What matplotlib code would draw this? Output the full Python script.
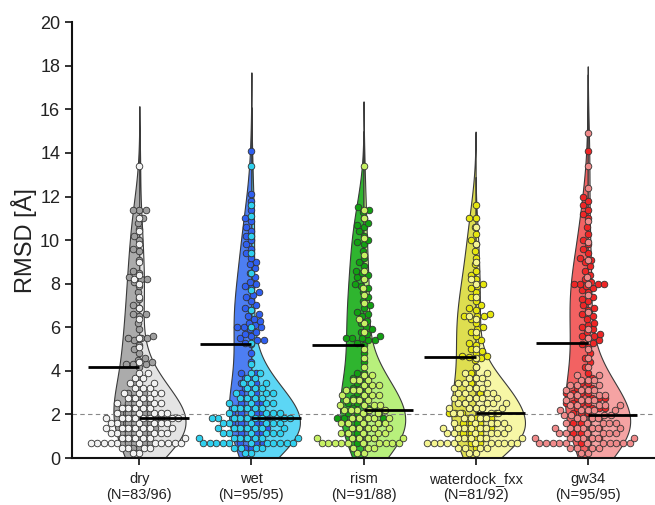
import numpy as np
import matplotlib
matplotlib.use("Agg")
import matplotlib.pyplot as plt

plt.rcParams['font.family'] = ['Liberation Sans', 'DejaVu Sans']

categories = ["dry", "wet", "rism", "waterdock_fxx", "gw34"]
counts = ["(N=83/96)", "(N=95/95)", "(N=91/88)", "(N=81/92)", "(N=95/95)"]

dry_dark = [0.48,0.48,0.7,0.7,0.7,0.93,0.93,0.93,1.16,1.16,1.16,1.39,1.39,1.39,1.39,
            1.62,1.62,1.62,1.62,1.85,1.85,1.85,1.85,1.85,2.08,2.08,2.08,2.08,2.31,2.31,2.31,
            2.54,2.54,2.54,2.77,2.77,3.0,3.0,3.23,3.46,3.69,
            4.2,
            4.3,4.3,4.3,4.4,4.5,4.6,4.8,5.0,5.2,5.4,5.5,5.5,5.5,5.6,5.9,6.2,6.5,6.6,6.6,6.9,
            7.0,7.3,7.6,7.9,8.1,8.2,8.2,8.3,8.5,8.6,9.1,9.5,9.6,10.0,10.2,10.5,10.8,11.0,
            11.4,11.4,11.4]
dry_light = [0.25,0.25,0.48,0.48,0.48,0.48,
             0.7,0.7,0.7,0.7,0.7,0.7,0.7,0.7,0.7,0.7,0.7,
             0.93,0.93,0.93,0.93,0.93,0.93,1.16,1.16,1.16,1.16,1.16,1.16,
             1.39,1.39,1.39,1.39,1.39,1.39,1.39,1.62,1.62,1.62,1.62,1.62,1.62,
             1.85,1.85,1.85,1.85,1.85,1.85,1.85,1.85,
             2.08,2.08,2.08,2.08,2.08,2.31,2.31,2.31,2.31,2.31,2.54,2.54,2.54,2.54,
             2.77,2.77,2.77,2.77,3.0,3.0,3.0,3.0,3.23,3.23,3.23,3.46,3.46,3.46,3.69,3.69,3.92,3.92,
             4.4,5.1,5.5,6.4,6.9,7.4,8.0,8.2,8.4,9.0,9.8,10.4,11.0,13.4]

wet_dark = [0.48,0.48,0.7,0.7,0.7,0.93,0.93,0.93,1.16,1.16,1.16,1.39,1.39,1.39,1.39,
            1.62,1.62,1.62,1.62,1.85,1.85,1.85,1.85,2.08,2.08,2.08,2.08,2.31,2.31,2.31,
            2.54,2.54,2.54,2.77,2.77,3.0,3.0,3.23,3.23,3.46,3.46,3.69,3.69,3.92,3.92,4.4,4.8,
            5.25,
            5.3,5.4,5.4,5.5,5.6,5.7,5.8,5.9,6.0,6.0,6.0,6.1,6.2,6.3,6.4,6.5,6.6,6.8,6.9,7.0,
            7.2,7.4,7.5,7.6,7.8,7.9,8.0,8.1,8.3,8.5,8.7,8.9,9.0,9.2,9.4,9.6,9.8,10.0,10.2,10.4,
            10.6,10.9,11.0,11.4,11.8,12.1,14.1]
wet_light = [0.25,0.25,0.48,0.48,0.48,0.48,
             0.7,0.7,0.7,0.7,0.7,0.7,0.7,0.7,0.7,0.7,0.7,
             0.93,0.93,0.93,0.93,0.93,0.93,0.93,1.16,1.16,1.16,1.16,1.16,1.16,
             1.39,1.39,1.39,1.39,1.39,1.39,1.39,1.62,1.62,1.62,1.62,1.62,1.62,
             1.85,1.85,1.85,1.85,1.85,1.85,1.85,1.85,1.85,
             2.08,2.08,2.08,2.08,2.08,2.31,2.31,2.31,2.31,2.31,2.54,2.54,2.54,2.54,
             2.77,2.77,2.77,2.77,3.0,3.0,3.0,3.0,3.23,3.23,3.23,3.46,3.46,3.46,3.69,3.69,3.92,3.92,
             4.3,5.3,6.0,6.8,7.7,8.5,9.4,10.2,11.1,11.6,13.4]

rism_dark = [0.7,0.7,0.93,0.93,0.93,1.16,1.16,1.16,1.39,1.39,1.39,1.62,1.62,1.62,1.62,
             1.85,1.85,1.85,1.85,1.85,1.85,2.08,2.08,2.08,2.08,2.31,2.31,2.31,2.54,2.54,2.54,
             2.77,2.77,3.0,3.0,3.23,3.23,3.46,3.46,3.69,3.69,3.92,3.92,4.4,4.8,
             5.2,
             5.3,5.4,5.4,5.5,5.5,5.5,5.6,5.7,5.8,5.9,6.0,6.2,6.3,6.5,6.6,6.7,6.9,7.0,7.2,7.4,
             7.6,7.8,7.9,8.0,8.2,8.3,8.4,8.5,8.6,8.8,9.0,9.2,9.5,9.8,9.9,10.0,10.2,10.4,10.6,10.7,
             10.8,11.0,11.3,11.4,11.5]
rism_light = [0.25,0.25,0.48,0.48,0.48,
              0.7,0.7,0.7,0.7,0.7,0.7,0.7,0.7,0.7,0.7,
              0.93,0.93,0.93,0.93,0.93,0.93,1.16,1.16,1.16,1.16,1.16,
              1.39,1.39,1.39,1.39,1.39,1.62,1.62,1.62,1.62,1.62,1.85,1.85,1.85,1.85,1.85,
              2.08,2.08,2.2,2.2,2.2,2.2,2.2,
              2.43,2.43,2.43,2.43,2.66,2.66,2.66,2.66,2.89,2.89,2.89,2.89,3.12,3.12,3.12,3.12,
              3.35,3.35,3.35,3.58,3.58,3.58,3.81,3.81,
              4.2,4.6,5.0,5.8,6.2,6.4,7.1,7.5,7.8,8.2,8.6,9.3,10.1,11.0,11.4,13.4]

wd_dark = [0.48,0.7,0.7,0.93,0.93,0.93,1.16,1.16,1.16,1.39,1.39,1.39,1.39,1.62,1.62,1.62,1.62,
           1.85,1.85,1.85,1.85,2.05,2.05,2.05,2.05,2.28,2.28,2.28,2.51,2.51,2.74,2.74,
           2.97,3.2,3.43,3.66,3.89,4.2,4.5,4.6,
           4.65,
           4.7,4.7,4.8,4.9,5.0,5.2,5.3,5.4,5.6,5.8,5.9,6.0,6.2,6.4,6.5,6.5,6.5,6.6,6.8,6.9,
           7.0,7.2,7.4,7.6,7.8,7.9,8.0,8.2,8.4,8.6,8.9,9.2,9.5,9.8,10.0,10.3,10.6,11.0,11.0,11.6]
wd_light = [0.25,0.25,0.48,0.48,0.48,0.48,
            0.7,0.7,0.7,0.7,0.7,0.7,0.7,0.7,0.7,0.7,0.7,
            0.93,0.93,0.93,0.93,0.93,0.93,1.16,1.16,1.16,1.16,1.16,1.16,
            1.39,1.39,1.39,1.39,1.39,1.39,1.39,1.62,1.62,1.62,1.62,1.62,1.85,1.85,1.85,1.85,
            2.05,2.05,2.05,2.05,
            2.28,2.28,2.28,2.28,2.28,2.51,2.51,2.51,2.51,2.51,2.74,2.74,2.74,2.74,2.74,
            2.97,2.97,2.97,2.97,3.2,3.2,3.2,3.2,3.43,3.43,3.43,3.66,3.66,3.66,3.89,3.89,
            4.2,4.6,5.0,5.8,6.4,6.5,7.4,8.0,8.2,9.0,9.8,10.6]

gw_dark = [0.7,0.7,0.93,0.93,0.93,1.16,1.16,1.16,1.39,1.39,1.39,1.62,1.62,1.62,1.85,1.85,1.85,
           2.08,2.08,2.08,2.31,2.31,2.31,2.31,2.54,2.54,2.54,2.54,2.77,2.77,2.77,2.77,
           3.0,3.0,3.0,3.0,3.23,3.23,3.46,3.46,3.69,3.92,4.2,4.4,4.6,4.8,5.1,
           5.25,
           5.3,5.4,5.5,5.6,5.6,5.7,5.8,5.9,6.0,6.1,6.2,6.4,6.5,6.6,6.8,6.9,7.0,7.2,7.3,7.4,
           7.6,7.7,7.8,7.9,8.0,8.0,8.0,8.0,8.1,8.2,8.4,8.6,8.8,9.0,9.1,9.2,9.4,9.6,9.8,10.0,
           10.3,10.6,11.0,11.2,11.4,11.6,11.8,12.0,14.1]
gw_light = [0.25,0.25,0.48,0.48,0.48,0.48,
            0.7,0.7,0.7,0.7,0.7,0.7,0.7,0.7,0.7,0.7,0.7,
            0.93,0.93,0.93,0.93,0.93,0.93,0.93,1.16,1.16,1.16,1.16,1.16,1.16,
            1.39,1.39,1.39,1.39,1.39,1.39,1.39,1.62,1.62,1.62,1.62,1.62,1.85,1.85,1.85,1.85,
            1.98,1.98,1.98,1.98,
            2.21,2.21,2.21,2.21,2.21,2.44,2.44,2.44,2.44,2.44,2.67,2.67,2.67,2.67,
            2.9,2.9,2.9,2.9,3.13,3.13,3.13,3.13,3.36,3.36,3.36,3.59,3.59,3.59,3.82,3.82,
            4.2,4.6,5.0,5.5,5.9,6.7,7.5,8.0,8.3,9.1,9.9,10.9,12.4,13.4,14.9]

dark_series = [dry_dark, wet_dark, rism_dark, wd_dark, gw_dark]
light_series = [dry_light, wet_light, rism_light, wd_light, gw_light]

violin_dark = ['#ababab', '#4d7ef2', '#2fb52f', '#dede50', '#f26262']
violin_light = ['#e4e4e4', '#5cd6f5', '#b8f07c', '#f7f7a6', '#f5a3a3']
point_dark = ['#9f9f9f', '#2f5ff0', '#12a012', '#e6e60e', '#ee2626']
point_light = ['#f2f2f2', '#2fd0ee', '#c6f063', '#f5f590', '#f08a8a']

W, H, DPI = 6.55, 5.05, 100
fig = plt.figure(figsize=(W, H), dpi=DPI)
ax_left, ax_bottom, ax_w, ax_h = 0.110, 0.093, 0.89, 0.863
ax = fig.add_axes([ax_left, ax_bottom, ax_w, ax_h])
xlim = (-0.6, 4.6)
ylim = (0, 20)
ax.set_xlim(*xlim)
ax.set_ylim(*ylim)

px_x = W * DPI * ax_w / (xlim[1] - xlim[0])
px_y = H * DPI * ax_h / (ylim[1] - ylim[0])


def kde_curve(vals, bw_adjust=1.15, cut=2.3):
    v = np.asarray(vals, float)
    bw = bw_adjust * v.std(ddof=1) * len(v) ** (-1 / 5)
    grid = np.linspace(v.min() - cut * bw, v.max() + cut * bw, 500)
    z = (grid[:, None] - v[None, :]) / bw
    d = np.exp(-0.5 * z ** 2).sum(axis=1) / (len(v) * bw * np.sqrt(2 * np.pi))
    return grid, d


dens = [(kde_curve(dk), kde_curve(lt)) for dk, lt in zip(dark_series, light_series)]
gmax = max(d.max() for pair in dens for (_, d) in pair)
half_width = 0.44

for i, pair in enumerate(dens):
    (gd, dd), (gl, dl) = pair
    ax.fill_betweenx(gd, i - dd / gmax * half_width, i, facecolor=violin_dark[i],
                     edgecolor='#3a3a3a', linewidth=0.8, zorder=1)
    ax.fill_betweenx(gl, i, i + dl / gmax * half_width, facecolor=violin_light[i],
                     edgecolor='#3a3a3a', linewidth=0.8, zorder=1)

ax.axhline(2, color='#888888', linestyle=(0, (4, 3)), linewidth=0.8, zorder=2)


def swarm_offsets(vals, diam):
    order = np.argsort(vals, kind='stable')
    ys = np.asarray(vals, float)[order] * px_y
    placed_x, placed_y = [], []
    offs = np.zeros(len(ys))
    for k, yp in enumerate(ys):
        near = [(x0, y0) for x0, y0 in zip(placed_x, placed_y) if abs(yp - y0) < diam]
        cands = [0.0]
        for x0, y0 in near:
            dx = np.sqrt(diam ** 2 - (yp - y0) ** 2)
            cands += [x0 - dx, x0 + dx]
        cands = sorted(cands, key=lambda c: (abs(c), c))
        chosen = cands[-1]
        for c in cands:
            if all((c - x0) ** 2 + (yp - y0) ** 2 >= diam ** 2 - 1e-6 for x0, y0 in near):
                chosen = c
                break
        placed_x.append(chosen)
        placed_y.append(yp)
        offs[k] = chosen
    return np.asarray(vals, float)[order], offs / px_x


diam_px = 6.6
msize = (diam_px * 72 / DPI) ** 2
for i in range(5):
    for vals, col, z in ((dark_series[i], point_dark[i], 3), (light_series[i], point_light[i], 4)):
        ys, xo = swarm_offsets(vals, diam_px)
        ax.scatter(i + xo, ys, s=msize, c=col, edgecolors='#333333', linewidths=0.6, zorder=z)

for i in range(5):
    md = np.median(dark_series[i])
    ml = np.median(light_series[i])
    ax.plot([i - 0.46, i], [md, md], color='black', linewidth=2.0, zorder=6, solid_capstyle='butt')
    ax.plot([i, i + 0.44], [ml, ml], color='black', linewidth=2.0, zorder=6, solid_capstyle='butt')

for s in ('top', 'right'):
    ax.spines[s].set_visible(False)
for s in ('left', 'bottom'):
    ax.spines[s].set_linewidth(1.5)
    ax.spines[s].set_color('#111111')

ax.set_yticks(np.arange(0, 21, 2))
ax.set_yticklabels([str(v) for v in range(0, 21, 2)], fontsize=13, color='#222222')
ax.set_xticks(range(5))
ax.set_xticklabels([f"{c}\n{n}" for c, n in zip(categories, counts)], fontsize=10.5,
                   color='#222222', linespacing=1.15)
ax.tick_params(axis='both', length=5, width=1.2, color='#111111')
ax.tick_params(axis='x', pad=5)
ax.set_ylabel("RMSD [Å]", fontsize=17, color='#222222', labelpad=2)

fig.savefig("out.png", dpi=DPI)
